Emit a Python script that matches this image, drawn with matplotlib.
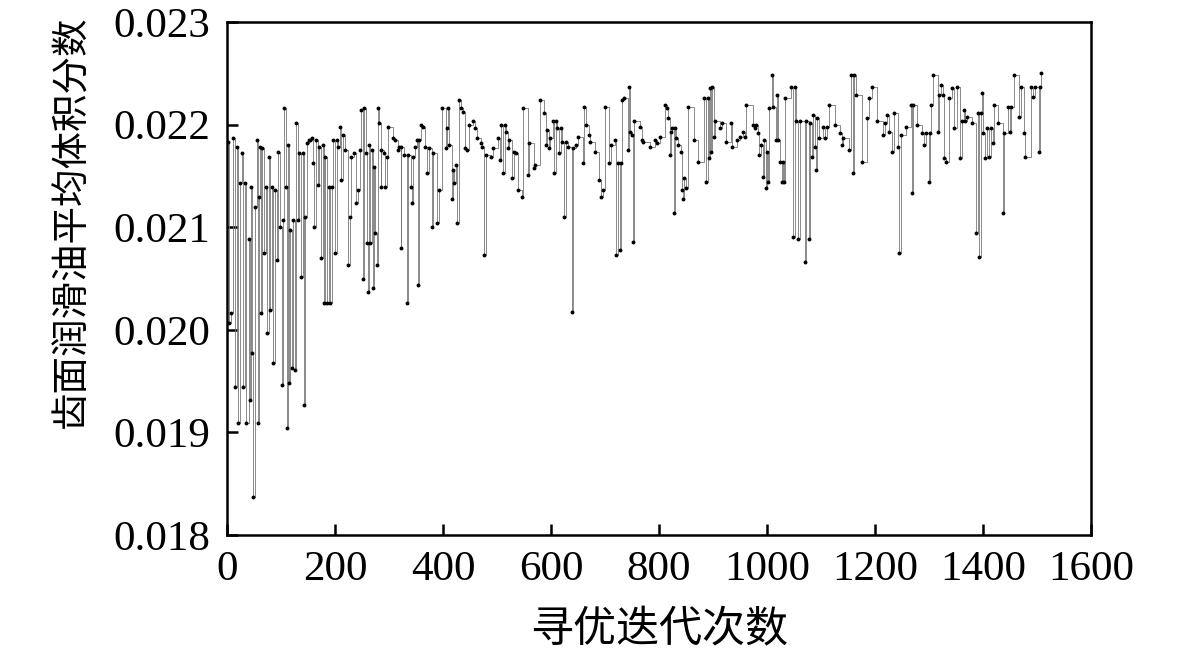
import matplotlib
matplotlib.use("Agg")
import matplotlib.pyplot as plt
import numpy as np

# iteration numbers and values (peaks, dips and plateau starts)
iters = [
    1, 4, 7, 12, 15, 18, 20, 24, 27, 30, 33, 36, 40, 42, 44, 47, 49, 52, 55, 57,
    59, 61, 63, 65, 69, 72, 74, 77, 80, 83, 86, 89, 92, 95, 98, 101, 104, 106, 109, 111,
    113, 115, 117, 120, 123, 126, 128, 131, 133, 137, 140, 143, 145, 148, 151, 154, 157, 160, 162, 164,
    168, 171, 174, 177, 179, 181, 185, 188, 191, 194, 197, 200, 203, 206, 209, 212, 215, 218, 225, 227,
    230, 236, 238, 242, 247, 249, 252, 254, 257, 259, 261, 263, 265, 268, 270, 272, 275, 278, 280, 282,
    285, 286, 290, 293, 296, 299, 308, 312, 316, 319, 322, 323, 327, 333, 336, 341, 343, 345, 348, 351,
    353, 355, 359, 363, 367, 371, 375, 379, 382, 389, 392, 399, 405, 407, 409, 411, 416, 419, 421, 424,
    426, 430, 433, 437, 440, 445, 449, 455, 459, 463, 470, 473, 476, 479, 488, 493, 501, 505, 508, 512,
    514, 517, 520, 523, 528, 531, 536, 539, 547, 549, 557, 560, 568, 571, 579, 587, 590, 593, 596, 599,
    603, 606, 609, 612, 615, 618, 621, 625, 628, 632, 638, 641, 646, 650, 659, 661, 664, 670, 673, 681,
    688, 693, 696, 700, 707, 711, 719, 721, 724, 727, 729, 732, 735, 743, 745, 747, 750, 752, 754, 765,
    768, 771, 783, 793, 797, 802, 811, 814, 817, 820, 822, 825, 827, 829, 832, 835, 840, 843, 845, 847,
    850, 853, 864, 873, 883, 887, 890, 893, 895, 897, 899, 901, 904, 913, 916, 925, 933, 935, 944, 950,
    955, 959, 962, 974, 977, 980, 983, 985, 988, 993, 995, 998, 1000, 1002, 1004, 1009, 1011, 1016, 1018, 1021,
    1024, 1027, 1030, 1032, 1034, 1045, 1048, 1051, 1054, 1058, 1061, 1070, 1072, 1077, 1080, 1083, 1085, 1088, 1091, 1093,
    1096, 1104, 1108, 1111, 1114, 1126, 1135, 1138, 1141, 1151, 1155, 1159, 1161, 1164, 1175, 1185, 1188, 1195, 1204, 1214,
    1219, 1222, 1225, 1232, 1235, 1243, 1245, 1248, 1257, 1266, 1268, 1270, 1277, 1287, 1291, 1295, 1300, 1302, 1304, 1307,
    1316, 1319, 1322, 1325, 1327, 1332, 1337, 1343, 1347, 1351, 1358, 1361, 1364, 1367, 1370, 1379, 1387, 1390, 1393, 1396,
    1398, 1400, 1404, 1408, 1411, 1414, 1418, 1421, 1428, 1437, 1439, 1447, 1450, 1452, 1458, 1467, 1470, 1475, 1478, 1488,
    1493, 1496, 1503, 1505, 1507,
]
vals = [
    0.02183, 0.02007, 0.02016, 0.02187, 0.01944, 0.02178, 0.01909, 0.02143, 0.02172, 0.01944,
    0.02143, 0.01909, 0.02088, 0.01932, 0.02139, 0.01977, 0.01837, 0.02120, 0.02185, 0.01909,
    0.02129, 0.02178, 0.02016, 0.02177, 0.02075, 0.02139, 0.01997, 0.02168, 0.02019, 0.02139,
    0.01968, 0.02136, 0.02068, 0.02173, 0.02100, 0.01946, 0.02107, 0.02216, 0.02139, 0.01904,
    0.02180, 0.01948, 0.02097, 0.01963, 0.02107, 0.01961, 0.02202, 0.02107, 0.02172, 0.02051,
    0.02172, 0.01927, 0.02110, 0.02182, 0.02185, 0.02185, 0.02187, 0.02163, 0.02100, 0.02185,
    0.02141, 0.02178, 0.02070, 0.02180, 0.02026, 0.02168, 0.02026, 0.02139, 0.02026, 0.02139,
    0.02185, 0.02075, 0.02185, 0.02178, 0.02198, 0.02146, 0.02190, 0.02175, 0.02063, 0.02110,
    0.02168, 0.02172, 0.02124, 0.02136, 0.02175, 0.02214, 0.02049, 0.02216, 0.02172, 0.02085,
    0.02037, 0.02180, 0.02085, 0.02175, 0.02041, 0.02159, 0.02094, 0.02063, 0.02216, 0.02202,
    0.02139, 0.02175, 0.02172, 0.02139, 0.02168, 0.02198, 0.02187, 0.02185, 0.02175, 0.02178,
    0.02080, 0.02178, 0.02170, 0.02026, 0.02170, 0.02139, 0.02124, 0.02168, 0.02178, 0.02185,
    0.02044, 0.02185, 0.02200, 0.02198, 0.02178, 0.02153, 0.02177, 0.02100, 0.02172, 0.02104,
    0.02136, 0.02216, 0.02177, 0.02197, 0.02216, 0.02180, 0.02127, 0.02156, 0.02143, 0.02161,
    0.02104, 0.02224, 0.02216, 0.02212, 0.02177, 0.02175, 0.02200, 0.02203, 0.02197, 0.02187,
    0.02182, 0.02178, 0.02073, 0.02170, 0.02168, 0.02177, 0.02187, 0.02165, 0.02200, 0.02153,
    0.02200, 0.02193, 0.02177, 0.02185, 0.02148, 0.02173, 0.02172, 0.02136, 0.02129, 0.02216,
    0.02151, 0.02182, 0.02158, 0.02161, 0.02224, 0.02211, 0.02180, 0.02195, 0.02177, 0.02187,
    0.02203, 0.02153, 0.02203, 0.02197, 0.02172, 0.02197, 0.02183, 0.02110, 0.02183, 0.02178,
    0.02017, 0.02177, 0.02180, 0.02188, 0.02163, 0.02217, 0.02200, 0.02190, 0.02183, 0.02173,
    0.02146, 0.02129, 0.02136, 0.02217, 0.02163, 0.02180, 0.02185, 0.02073, 0.02163, 0.02078,
    0.02163, 0.02224, 0.02226, 0.02175, 0.02237, 0.02193, 0.02190, 0.02086, 0.02203, 0.02198,
    0.02185, 0.02183, 0.02178, 0.02185, 0.02182, 0.02188, 0.02219, 0.02216, 0.02206, 0.02170,
    0.02193, 0.02197, 0.02114, 0.02197, 0.02187, 0.02180, 0.02173, 0.02136, 0.02127, 0.02148,
    0.02138, 0.02217, 0.02185, 0.02164, 0.02226, 0.02144, 0.02226, 0.02167, 0.02236, 0.02173,
    0.02237, 0.02188, 0.02203, 0.02197, 0.02202, 0.02183, 0.02202, 0.02178, 0.02185, 0.02188,
    0.02193, 0.02188, 0.02219, 0.02200, 0.02197, 0.02200, 0.02192, 0.02170, 0.02180, 0.02149,
    0.02185, 0.02138, 0.02173, 0.02144, 0.02216, 0.02248, 0.02217, 0.02185, 0.02229, 0.02185,
    0.02164, 0.02144, 0.02164, 0.02144, 0.02226, 0.02237, 0.02090, 0.02237, 0.02203, 0.02088,
    0.02203, 0.02066, 0.02203, 0.02088, 0.02202, 0.02168, 0.02209, 0.02178, 0.02156, 0.02206,
    0.02187, 0.02198, 0.02187, 0.02198, 0.02219, 0.02200, 0.02192, 0.02180, 0.02187, 0.02175,
    0.02248, 0.02153, 0.02248, 0.02229, 0.02164, 0.02206, 0.02226, 0.02237, 0.02203, 0.02190,
    0.02202, 0.02209, 0.02193, 0.02173, 0.02211, 0.02178, 0.02075, 0.02190, 0.02198, 0.02219,
    0.02133, 0.02219, 0.02200, 0.02192, 0.02180, 0.02192, 0.02144, 0.02192, 0.02219, 0.02248,
    0.02193, 0.02229, 0.02239, 0.02229, 0.02167, 0.02164, 0.02226, 0.02236, 0.02197, 0.02237,
    0.02167, 0.02203, 0.02214, 0.02203, 0.02207, 0.02202, 0.02094, 0.02211, 0.02071, 0.02211,
    0.02231, 0.02192, 0.02167, 0.02197, 0.02168, 0.02197, 0.02182, 0.02219, 0.02202, 0.02114,
    0.02192, 0.02217, 0.02193, 0.02217, 0.02248, 0.02207, 0.02237, 0.02192, 0.02168, 0.02237,
    0.02227, 0.02237, 0.02173, 0.02237, 0.02250,
]

xticks = [0, 200, 400, 600, 800, 1000, 1200, 1400, 1600]
yticks = [0.018, 0.019, 0.020, 0.021, 0.022, 0.023]
xlabel = "寻优迭代次数"
ylabel = "齿面润滑油平均体积分数"

plt.rcParams['font.family'] = ['Liberation Serif', 'DejaVu Serif']
cjk = ['Noto Sans CJK SC', 'DejaVu Sans']

fig = plt.figure(figsize=(11.81, 6.56), dpi=100)
ax = fig.add_axes([0.1922, 0.1845, 0.7316, 0.782])

ax.plot(iters, vals, color='#777777', lw=0.6, drawstyle='steps-post')
ax.plot(iters, vals, ls='none', marker='o', ms=1.8, mfc='black', mec='black')

ax.set_xlim(0, 1600)
ax.set_ylim(0.018, 0.023)
ax.set_xticks(xticks)
ax.set_yticks(yticks)
ax.set_yticklabels([f"{v:.3f}" for v in yticks])
ax.tick_params(direction='in', length=8, width=1.8, labelsize=31, top=False, right=False)
ax.tick_params(axis='x', pad=11)
ax.tick_params(axis='y', pad=12)
for s in ax.spines.values():
    s.set_linewidth(1.8)

ax.set_xlabel(xlabel, fontsize=31, family=cjk, fontweight='light')
ax.set_ylabel(ylabel, fontsize=27, family=cjk, fontweight='light')
ax.xaxis.set_label_coords(0.5, -0.143)
ax.yaxis.set_label_coords(-0.157, 0.61)

fig.savefig("out.png", dpi=100)
